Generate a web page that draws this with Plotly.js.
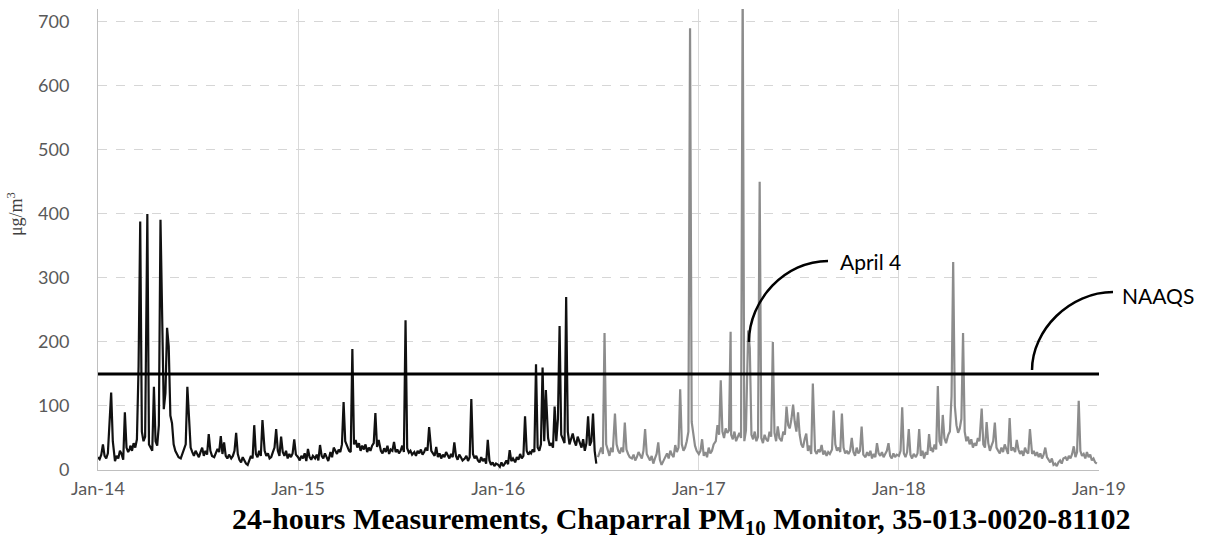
<!DOCTYPE html>
<html>
<head>
<meta charset="utf-8">
<script src="https://cdn.plot.ly/plotly-3.0.1.min.js"></script>
<style>
  html, body { margin: 0; padding: 0; background: #ffffff; }
  #chart { width: 1208px; height: 542px; }
</style>
</head>
<body>
<div id="chart"></div>
<script>
// 24-hour PM10 concentrations (µg/m³), Chaparral monitor.
// Each month holds readings taken on days 1, 4, 7, ..., 28.
const sampleDays = [1, 4, 7, 10, 13, 16, 19, 22, 25, 28];

const pm2014 = [
  20, 17, 24, 40, 22, 18, 26, 85, 121, 45,
  14, 22, 18, 30, 25, 16, 90, 35, 28, 33,
  38, 30, 42, 35, 48, 162, 388, 60, 45, 52,
  400, 40, 35, 30, 130, 45, 38, 70, 391, 206,
  95, 120, 222, 193, 85, 73, 40, 30, 24, 20,
  18, 25, 30, 40, 130, 85, 35, 28, 22, 30,
  25, 20, 28, 35, 22, 30, 24, 56, 30, 22,
  20, 26, 33, 28, 53, 25, 43, 22, 18, 24,
  18, 22, 30, 58, 25, 16, 12, 20, 15, 10,
  8, 14, 22, 18, 70, 25, 20, 30, 22, 78,
  30, 22, 26, 18, 20, 28, 35, 64, 30, 22,
  52, 28, 22, 30, 18, 25, 20, 26, 48, 24
];

const pm2015 = [
  20, 15, 22, 18, 26, 14, 33, 20, 16, 22,
  18, 24, 15, 39, 22, 18, 26, 20, 14, 24,
  28, 20, 35, 30, 25, 32, 28, 40, 106, 45,
  36, 30, 28, 189, 40, 47, 35, 42, 30, 38,
  32, 40, 28, 35, 30, 38, 42, 89, 36, 47,
  30, 26, 34, 28, 38, 25, 32, 30, 44, 28,
  32, 26, 30, 38, 28, 234, 34, 27, 30, 24,
  28, 22, 30, 26, 32, 24, 28, 35, 30, 67,
  30, 25, 22, 36, 20, 26, 18, 24, 20, 28,
  22, 18, 25, 20, 43, 22, 16, 24, 20, 15,
  18, 22, 14, 20, 111, 25, 18, 22, 15, 12,
  20, 14, 18, 10, 47, 15, 8, 12, 6, 10
];

// January–June 2016
const pm2016a = [
  8, 5, 12, 6, 10, 15, 9, 31, 14, 18,
  12, 20, 16, 25, 18, 22, 84, 30, 24, 28,
  26, 32, 28, 165, 35, 30, 40, 160, 45, 125,
  50, 38, 42, 35, 99, 45, 80, 225, 55, 48,
  42, 270, 60, 40, 50, 57, 45, 38, 52, 44,
  35, 48, 30, 42, 84, 38, 45, 88, 30, 10
];

// July–December 2016
const pm2016b = [
  20, 28, 35, 25, 214, 40, 30, 22, 35, 28,
  88, 40, 30, 26, 35, 28, 74, 32, 25, 20,
  18, 24, 15, 20, 28, 22, 18, 30, 64, 25,
  20, 15, 22, 10, 18, 25, 43, 16, 8, 14,
  20, 26, 18, 30, 24, 20, 39, 28, 35, 126,
  40, 30, 35, 45, 60, 690, 75, 55, 38, 30
];

const pm2017 = [
  25, 30, 48, 22, 28, 20, 35, 26, 30, 40,
  45, 70, 55, 140, 60, 50, 65, 58, 62, 216,
  55, 48, 60, 45, 52, 58, 50, 760, 45, 62,
  218, 190, 55, 48, 60, 45, 52, 450, 50, 42,
  55, 48, 45, 60, 52, 200, 58, 45, 68, 50,
  45, 60, 55, 99, 70, 65, 80, 102, 75, 60,
  90, 55, 40, 35, 48, 57, 30, 38, 25, 135,
  30, 25, 32, 28, 39, 24, 30, 22, 28, 25,
  32, 93, 40, 30, 35, 28, 88, 35, 26, 30,
  25, 30, 50, 28, 22, 35, 26, 30, 68, 24,
  20, 28, 22, 30, 18, 25, 20, 42, 26, 22,
  28, 20, 25, 30, 42, 22, 18, 26, 20, 24
];

const pm2018 = [
  22, 30, 98, 26, 20, 28, 64, 24, 18, 25,
  20, 26, 64, 22, 30, 18, 28, 24, 56, 30,
  35, 28, 40, 32, 131, 45, 38, 86, 50, 42,
  55, 60, 115, 325, 100, 70, 58, 65, 80, 214,
  60, 45, 52, 40, 48, 35, 42, 38, 50, 45,
  96, 40, 35, 75, 42, 30, 38, 45, 74, 35,
  30, 26, 35, 28, 40, 32, 25, 81, 30, 35,
  28, 47, 32, 25, 30, 22, 35, 28, 26, 64,
  25, 30, 22, 28, 20, 26, 18, 24, 35, 20,
  15, 12, 18, 8, 10, 6, 12, 15, 10, 18,
  20, 15, 22, 18, 25, 37, 20, 28, 108, 30,
  22, 25, 18, 28, 20, 24, 15, 18, 12, 10
];

const naaqsLevel = 150;
const tickDates = ['2014-01-01', '2015-01-01', '2016-01-01', '2017-01-01', '2018-01-01', '2019-01-01'];
const tickLabels = ['Jan-14', 'Jan-15', 'Jan-16', 'Jan-17', 'Jan-18', 'Jan-19'];
const yTicks = [0, 100, 200, 300, 400, 500, 600, 700];

// Turn a block of monthly readings into dated points
function datedSeries(values, year, firstMonth) {
  const x = [], y = [];
  values.forEach((v, i) => {
    const month = firstMonth + Math.floor(i / sampleDays.length);
    const day = sampleDays[i % sampleDays.length];
    x.push(year + '-' + String(month).padStart(2, '0') + '-' + String(day).padStart(2, '0'));
    y.push(v);
  });
  return { x, y };
}

function joinSeries(parts) {
  return parts.reduce((acc, p) => ({ x: acc.x.concat(p.x), y: acc.y.concat(p.y) }), { x: [], y: [] });
}

const early = joinSeries([
  datedSeries(pm2014, 2014, 1),
  datedSeries(pm2015, 2015, 1),
  datedSeries(pm2016a, 2016, 1)
]);
const late = joinSeries([
  datedSeries(pm2016b, 2016, 7),
  datedSeries(pm2017, 2017, 1),
  datedSeries(pm2018, 2018, 1)
]);

const traces = [
  {
    type: 'scatter', mode: 'lines', x: early.x, y: early.y,
    line: { color: '#111111', width: 2.2 }, hoverinfo: 'x+y', showlegend: false
  },
  {
    type: 'scatter', mode: 'lines', x: late.x, y: late.y,
    line: { color: '#8c8c8c', width: 2.2 }, hoverinfo: 'x+y', showlegend: false
  },
  {
    type: 'scatter', mode: 'lines',
    x: [tickDates[0], tickDates[tickDates.length - 1]],
    y: [naaqsLevel, naaqsLevel],
    line: { color: '#000000', width: 3 }, hoverinfo: 'y', showlegend: false
  }
];

const sansFamily = 'Lato, "Open Sans", sans-serif';
const serifFamily = '"Liberation Serif", "Times New Roman", serif';

const layout = {
  width: 1208,
  height: 542,
  margin: { l: 98, r: 109, t: 9, b: 72 },
  paper_bgcolor: '#ffffff',
  plot_bgcolor: '#ffffff',
  showlegend: false,
  title: {
    text: '<b>24-hours Measurements, Chaparral PM<sub>10</sub> Monitor, 35-013-0020-81102</b>',
    font: { family: serifFamily, size: 30, color: '#000000' },
    xref: 'container', yref: 'container',
    x: 0.564, y: 0.044, xanchor: 'center', yanchor: 'middle'
  },
  xaxis: {
    type: 'date',
    range: [tickDates[0], tickDates[tickDates.length - 1]],
    tickmode: 'array', tickvals: tickDates, ticktext: tickLabels,
    tickfont: { family: sansFamily, size: 18, color: '#595959' },
    ticklabelstandoff: 2,
    showgrid: true, gridcolor: '#d9d9d9', gridwidth: 1,
    showline: true, linecolor: '#bfbfbf', linewidth: 1,
    ticks: '', zeroline: false, fixedrange: true
  },
  yaxis: {
    range: [0, 720],
    tickmode: 'array', tickvals: yTicks,
    tickfont: { family: sansFamily, size: 18, color: '#595959' },
    ticklabelstandoff: 24,
    showgrid: true, gridcolor: '#d6d6d6', griddash: 'dash', gridwidth: 1,
    showline: true, linecolor: '#bfbfbf', linewidth: 1,
    ticks: '', zeroline: false, fixedrange: true,
    automargin: false
  },
  shapes: [
    // leader to the April 4 reading
    {
      type: 'path', xref: 'paper', yref: 'paper',
      path: 'M 0.6503 0.2777 C 0.6503 0.3688, 0.6863 0.4534, 0.7293 0.4534',
      line: { color: '#000000', width: 2.5 }
    },
    // leader to the standard line
    {
      type: 'path', xref: 'paper', yref: 'paper',
      path: 'M 0.9331 0.2169 C 0.9331 0.3037, 0.9710 0.3861, 1.0140 0.3861',
      line: { color: '#000000', width: 2.5 }
    }
  ],
  annotations: [
    {
      // y-axis unit label
      text: 'μg/m<sup>3</sup>', xref: 'paper', yref: 'paper', x: -0.083, y: 0.555,
      xanchor: 'center', yanchor: 'middle', textangle: -90, showarrow: false,
      font: { family: serifFamily, size: 18, color: '#404040' }
    },
    {
      text: 'April 4', xref: 'paper', yref: 'paper', x: 0.7393, y: 0.4512,
      xanchor: 'left', yanchor: 'middle', showarrow: false,
      font: { family: sansFamily, size: 21, color: '#000000' }
    },
    {
      text: 'NAAQS', xref: 'paper', yref: 'paper', x: 1.021, y: 0.3796,
      xanchor: 'left', yanchor: 'middle', showarrow: false,
      font: { family: sansFamily, size: 21, color: '#000000' }
    }
  ]
};

Plotly.newPlot('chart', traces, layout, { displayModeBar: false, staticPlot: true });
</script>
</body>
</html>
